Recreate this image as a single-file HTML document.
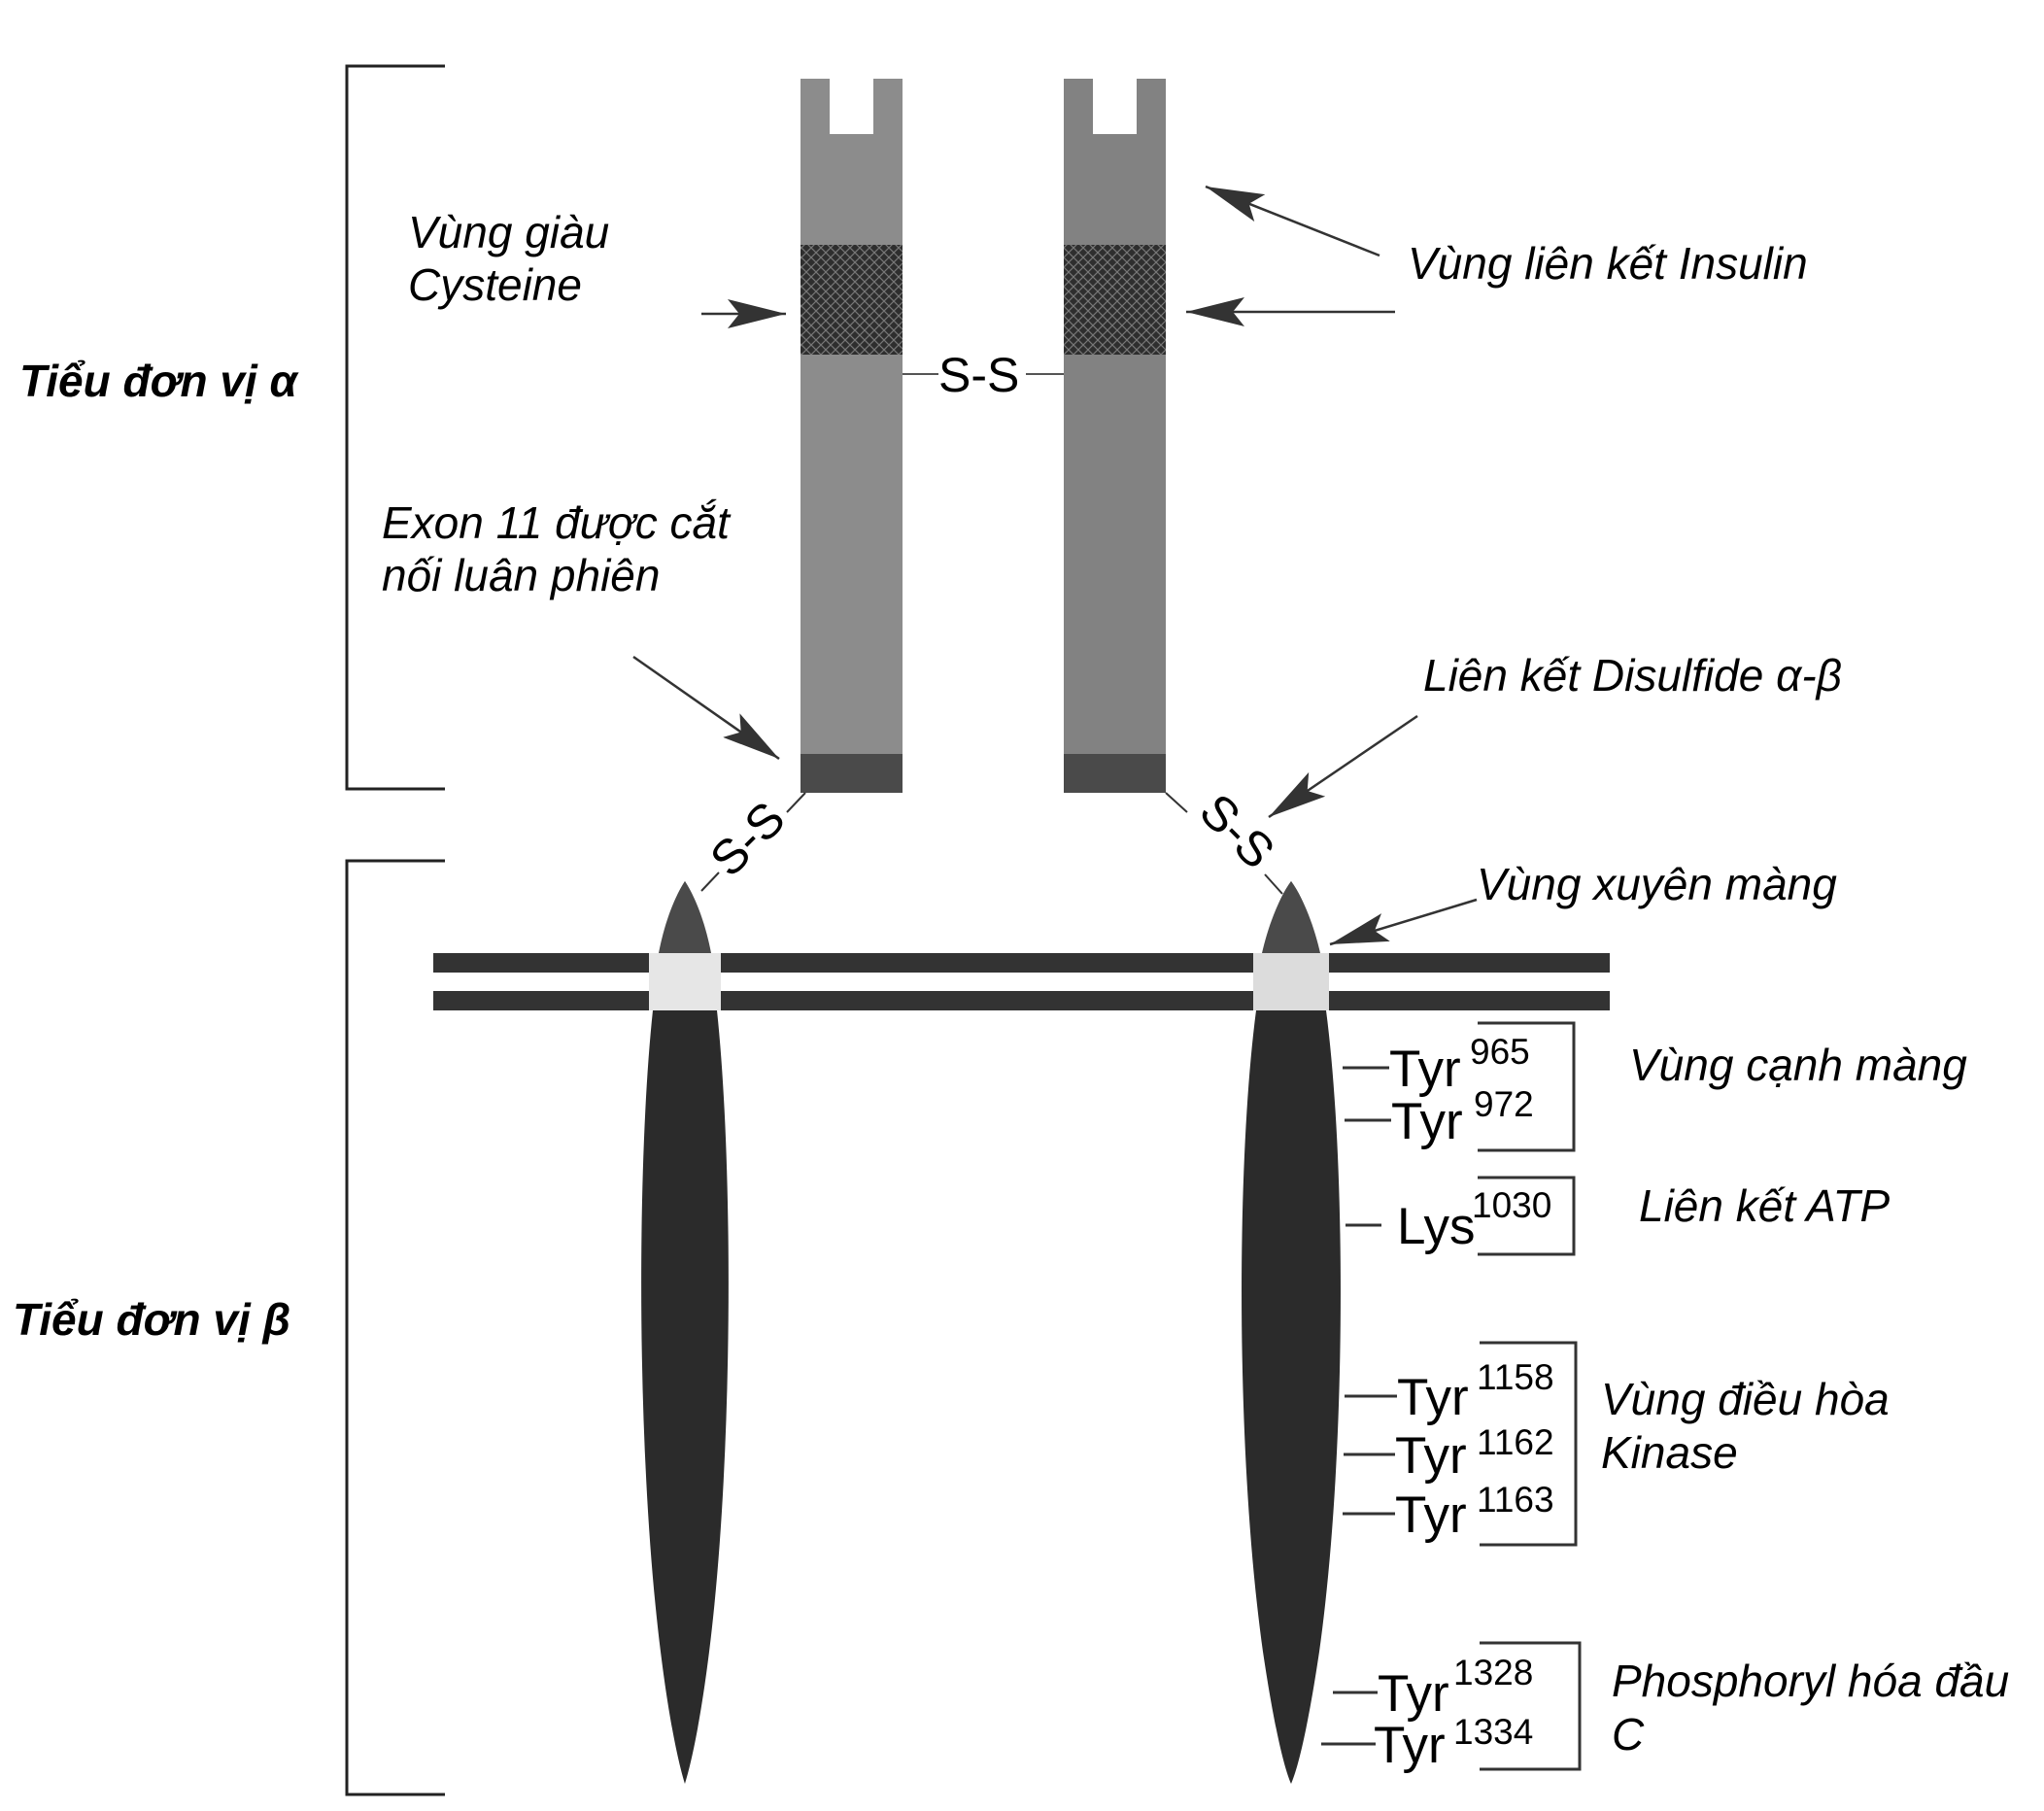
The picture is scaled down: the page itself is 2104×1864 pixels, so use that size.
<!DOCTYPE html>
<html><head><meta charset="utf-8"><style>
html,body{margin:0;padding:0;background:#fff}
svg{display:block}
text{font-family:"Liberation Sans",Arial,sans-serif;fill:#000}
.it{font-style:italic;font-size:46px}
.b{font-style:italic;font-weight:bold;font-size:46px}
.t{font-size:53px}
.s{font-size:37px}
</style></head><body>
<svg width="2104" height="1864" viewBox="0 0 2104 1864" xmlns="http://www.w3.org/2000/svg">
<defs>
<marker id="ah2" viewBox="0 0 60 30" refX="60" refY="15" markerWidth="60" markerHeight="30" markerUnits="userSpaceOnUse" orient="auto">
<path d="M0,0 L60,15 L0,30 L12,15 Z" fill="#333"/></marker>
<pattern id="hatch" width="10" height="10" patternUnits="userSpaceOnUse">
<rect width="10" height="10" fill="#2e2e2e"/><path d="M0,0 L10,10 M10,0 L0,10" stroke="#777" stroke-width="1.2"/></pattern>
</defs>
<g stroke="#222" stroke-width="3" fill="none">
<path d="M458,68 H357 V812 H458"/>
<path d="M458,886 H357 V1847 H458"/>
</g>
<text class="b" x="20" y="408">Tiểu đơn vị α</text>
<text class="b" x="13" y="1374">Tiểu đơn vị β</text>
<path d="M824,81 H854 V138 H899 V81 H929 V816 H824 Z" fill="#8c8c8c"/>
<rect x="824" y="252" width="105" height="113" fill="url(#hatch)"/>
<rect x="824" y="776" width="105" height="40" fill="#4a4a4a"/>
<path d="M1095,81 H1125 V138 H1170 V81 H1200 V816 H1095 Z" fill="#828282"/>
<rect x="1095" y="252" width="105" height="113" fill="url(#hatch)"/>
<rect x="1095" y="776" width="105" height="40" fill="#4a4a4a"/>
<g stroke="#555" stroke-width="2"><line x1="929" y1="385" x2="966" y2="385"/><line x1="1056" y1="385" x2="1095" y2="385"/></g>
<text x="966" y="403" font-size="50">S-S</text>
<rect x="446" y="981" width="1211" height="20" fill="#333"/>
<rect x="446" y="1020" width="1211" height="20" fill="#333"/>
<path d="M705,907 C690,930 678,970 672,1040 C655,1200 655,1500 680,1700 C690,1780 700,1820 705,1836 C710,1820 720,1780 730,1700 C755,1500 755,1200 738,1040 C732,970 720,930 705,907 Z" fill="#2b2b2b"/>
<path d="M705,907 C692,927 683,955 678,981 H732 C727,955 718,927 705,907 Z" fill="#4a4a4a"/>
<rect x="668" y="981" width="74" height="59" fill="#e6e6e6"/>
<path d="M1329,907 C1312,930 1300,970 1293,1040 C1272,1200 1272,1500 1300,1700 C1312,1780 1322,1820 1329,1836 C1336,1820 1346,1780 1358,1700 C1386,1500 1386,1200 1365,1040 C1358,970 1346,930 1329,907 Z" fill="#2b2b2b"/>
<path d="M1329,907 C1315,927 1305,955 1299,981 H1359 C1353,955 1343,927 1329,907 Z" fill="#4a4a4a"/>
<rect x="1290" y="981" width="78" height="59" fill="#dcdcdc"/>
<g stroke="#333" stroke-width="2">
<line x1="829" y1="816" x2="810" y2="836"/><line x1="740" y1="898" x2="722" y2="917"/>
<line x1="1200" y1="816" x2="1222" y2="836"/><line x1="1302" y1="900" x2="1320" y2="920"/>
</g>
<text font-size="50" transform="translate(752,905) rotate(-45)">S-S</text>
<text font-size="50" transform="translate(1232,838) rotate(45)">S-S</text>
<text class="it" x="420" y="255">Vùng giàu</text>
<text class="it" x="420" y="309">Cysteine</text>
<text class="it" x="393" y="554">Exon 11 được cắt</text>
<text class="it" x="393" y="608">nối luân phiên</text>
<text class="it" x="1449" y="287">Vùng liên kết Insulin</text>
<text class="it" x="1465" y="711">Liên kết Disulfide α-β</text>
<text class="it" x="1520" y="926">Vùng xuyên màng</text>
<g stroke="#333" stroke-width="2.5" fill="none">
<line x1="722" y1="323" x2="809" y2="323" marker-end="url(#ah2)"/>
<line x1="1420" y1="263" x2="1241" y2="192" marker-end="url(#ah2)"/>
<line x1="1436" y1="321" x2="1221" y2="321" marker-end="url(#ah2)"/>
<line x1="652" y1="676" x2="802" y2="781" marker-end="url(#ah2)"/>
<line x1="1459" y1="737" x2="1306" y2="841" marker-end="url(#ah2)"/>
<line x1="1520" y1="926" x2="1369" y2="972" marker-end="url(#ah2)"/>
</g>
<g stroke="#333" stroke-width="3">
<line x1="1382" y1="1099" x2="1430" y2="1099"/>
<line x1="1384" y1="1153" x2="1432" y2="1153"/>
<line x1="1385" y1="1261" x2="1422" y2="1261"/>
<line x1="1384" y1="1437" x2="1438" y2="1437"/>
<line x1="1383" y1="1497" x2="1436" y2="1497"/>
<line x1="1382" y1="1558" x2="1436" y2="1558"/>
<line x1="1372" y1="1742" x2="1418" y2="1742"/>
<line x1="1360" y1="1795" x2="1416" y2="1795"/>
</g>
<g stroke="#333" stroke-width="3" fill="none">
<path d="M1521,1053 H1620 V1184 H1521"/>
<path d="M1521,1212 H1620 V1291 H1521"/>
<path d="M1523,1382 H1622 V1590 H1523"/>
<path d="M1523,1691 H1626 V1821 H1523"/>
</g>
<text class="t" x="1430" y="1118">Tyr</text><text class="s" x="1513" y="1095">965</text>
<text class="t" x="1432" y="1172">Tyr</text><text class="s" x="1517" y="1149">972</text>
<text class="t" x="1438" y="1280">Lys</text><text class="s" x="1515" y="1253">1030</text>
<text class="t" x="1438" y="1456">Tyr</text><text class="s" x="1520" y="1430">1158</text>
<text class="t" x="1436" y="1516">Tyr</text><text class="s" x="1520" y="1497">1162</text>
<text class="t" x="1436" y="1577">Tyr</text><text class="s" x="1520" y="1556">1163</text>
<text class="t" x="1418" y="1761">Tyr</text><text class="s" x="1496" y="1734">1328</text>
<text class="t" x="1414" y="1814">Tyr</text><text class="s" x="1496" y="1795">1334</text>
<text class="it" x="1677" y="1112">Vùng cạnh màng</text>
<text class="it" x="1687" y="1257">Liên kết ATP</text>
<text class="it" x="1648" y="1456">Vùng điều hòa</text>
<text class="it" x="1648" y="1511">Kinase</text>
<text class="it" x="1659" y="1746">Phosphoryl hóa đầu</text>
<text class="it" x="1659" y="1801">C</text>
</svg>
</body></html>
